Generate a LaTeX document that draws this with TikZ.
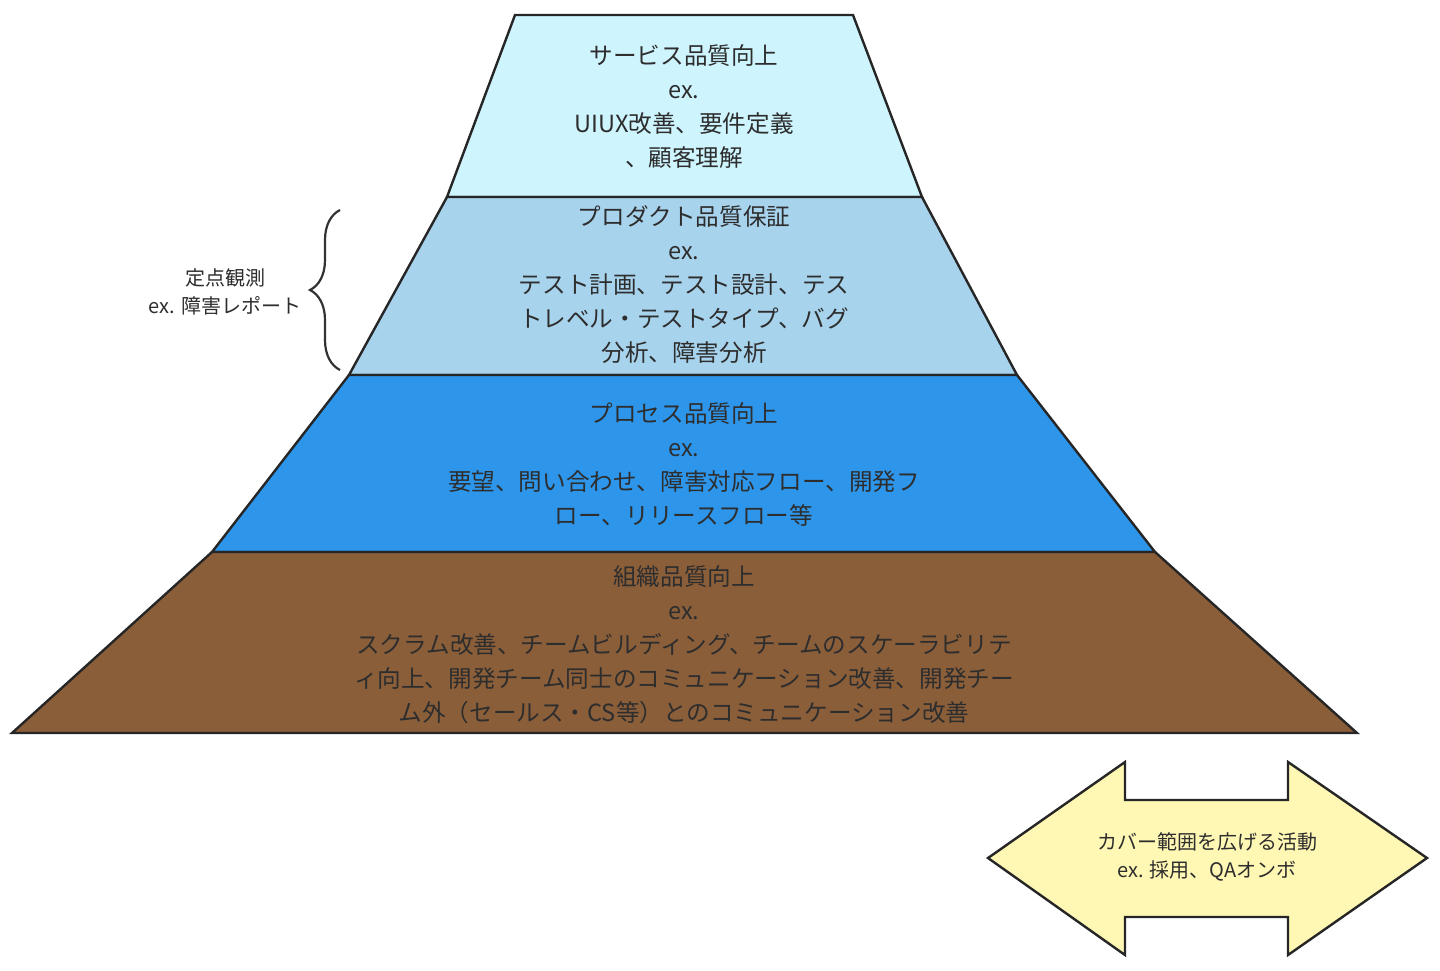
\documentclass[tikz,border=0pt]{standalone}
\usepackage{fontspec}
\setmainfont{Noto Sans CJK JP}
\usepackage{tikz}
\usetikzlibrary{positioning, calc, decorations.pathreplacing}

\definecolor{servicecol}{RGB}{206,244,253}
\definecolor{productcol}{RGB}{168,211,237}
\definecolor{processcol}{RGB}{45,150,235}
\definecolor{orgcol}{RGB}{139,94,58}
\definecolor{arrowcol}{RGB}{255,247,180}
\definecolor{inkcol}{RGB}{45,45,45}

\begin{document}
\begin{tikzpicture}[
  x=1pt, y=-1pt,
  layer/.style={draw=black!85, line width=2.4pt, line join=miter},
  txt/.style={align=center, text=inkcol, font=\fontsize{23.6}{34}\selectfont},
  note/.style={align=center, text=inkcol, font=\fontsize{20}{28}\selectfont},
  brc/.style={draw=black!80, line width=2.2pt, decorate, decoration={brace, amplitude=30pt, aspect=0.5}}
]
  \useasboundingbox (0,0) rectangle (1440,970);

  % ----- Pyramide (4 couches) -----
  \draw[layer, fill=servicecol] (515,15) -- (853,15) -- (922,197) -- (447,197) -- cycle;
  \draw[layer, fill=productcol] (447,197) -- (922,197) -- (1017,375) -- (349,375) -- cycle;
  \draw[layer, fill=processcol] (349,375) -- (1017,375) -- (1155,552) -- (212,552) -- cycle;
  \draw[layer, fill=orgcol]     (212,552) -- (1155,552) -- (1357,733) -- (12,733) -- cycle;

  % ----- Textes des couches -----
  \node[txt] (service) at (684,107) {サービス品質向上\\ex.\\UIUX改善、要件定義\\、顧客理解};
  \node[txt] (product) at (684,285) {プロダクト品質保証\\ex.\\テスト計画、テスト設計、テス\\トレベル・テストタイプ、バグ\\分析、障害分析};
  \node[txt] (process) at (684,464) {プロセス品質向上\\ex.\\要望、問い合わせ、障害対応フロー、開発フ\\ロー、リリースフロー等};
  \node[txt] (org)     at (684,645) {組織品質向上\\ex.\\スクラム改善、チームビルディング、チームのスケーラビリテ\\ィ向上、開発チーム同士のコミュニケーション改善、開発チー\\ム外（セールス・CS等）とのコミュニケーション改善};

  % ----- Accolade et note -----
  \coordinate (brctop) at (340,210);
  \coordinate (brcbot) at (340,370);
  \draw[brc] (brcbot) -- (brctop);
  \node[note] (fixed) at (225,292) {定点観測\\ex. 障害レポート};

  % ----- Double flèche -----
  \draw[layer, fill=arrowcol] (988,858) -- (1125,762) -- (1125,800) -- (1288,800) -- (1288,762)
    -- (1427,858) -- (1288,955) -- (1288,917) -- (1125,917) -- (1125,955) -- cycle;
  \node[note] (cover) at (1207,857) {カバー範囲を広げる活動\\ex. 採用、QAオンボ};
\end{tikzpicture}
\end{document}
